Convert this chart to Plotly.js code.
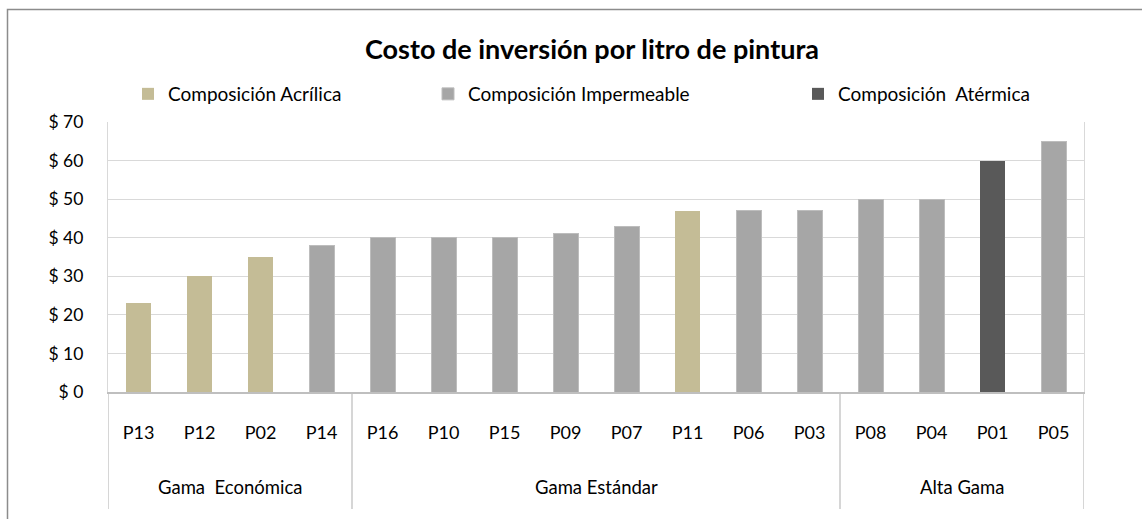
<!DOCTYPE html>
<html>
<head>
<meta charset="utf-8">
<script src="https://cdn.plot.ly/plotly-3.0.1.min.js"></script>
<style>html,body{margin:0;padding:0;background:#fff;}#chart{width:1142px;height:519px;}</style>
</head>
<body>
<div id="chart"></div>
<script>
const products = ["P13","P12","P02","P14","P16","P10","P15","P09","P07","P11","P06","P03","P08","P04","P01","P05"];
const costs = [23,30,35,38,40,40,40,41,43,47,47,47,50,50,60,65];
const composition = ["Acrílica","Acrílica","Acrílica","Impermeable","Impermeable","Impermeable","Impermeable","Impermeable","Impermeable","Acrílica","Impermeable","Impermeable","Impermeable","Impermeable","Atérmica","Impermeable"];
const groupNames = ["Gama  Económica","Gama Estándar","Alta Gama"];
const groupSizes = [4,8,4];
const seriesNames = ["Composición Acrílica","Composición Impermeable","Composición  Atérmica"];
const seriesKeys = ["Acrílica","Impermeable","Atérmica"];
const seriesColors = ["#c4bc96","#a6a6a6","#595959"];

const FONT = "Lato, 'Open Sans', sans-serif";
const L = 108, R = 1084, T = 122, B = 392;
const W = R - L, H = B - T;
const px = x => (x - L) / W;
const py = y => 1 - (y - T) / H;

const legendX = [128, 428, 798];
const traces = seriesKeys.map((k, i) => ({
  type: "bar",
  name: seriesNames[i],
  x: products,
  y: costs.map((v, j) => composition[j] === k ? v : null),
  marker: {color: seriesColors[i], line: {color: k === "Impermeable" ? "#bdbdbd" : seriesColors[i], width: k === "Impermeable" ? 1 : 0}},
  legend: i === 0 ? "legend" : "legend" + (i + 1),
  hoverinfo: "x+y"
}));

const shapes = [];
const annotations = [];
let start = 0;
const bounds = [-0.5];
groupSizes.forEach((n, g) => {
  annotations.push({
    x: start + (n - 1) / 2, xref: "x", y: py(487), yref: "paper",
    text: groupNames[g], showarrow: false, xanchor: "center", yanchor: "middle",
    font: {family: FONT, size: 18.5, color: "#000"}
  });
  start += n;
  bounds.push(start - 0.5);
});
bounds.forEach(b => shapes.push({
  type: "line", xref: "x", yref: "paper", x0: b, x1: b, y0: 0, y1: py(509),
  line: {color: "#c0c0c0", width: 1.3}
}));
// outer frame
shapes.push({type: "rect", xref: "paper", yref: "paper",
  x0: px(7.5), x1: px(1200), y0: py(560), y1: py(9.5),
  line: {color: "#8c8c8c", width: 1.5}, fillcolor: "rgba(0,0,0,0)", layer: "below"});

function legendCfg(i) {
  return {
    orientation: "h", x: px(legendX[i]), xanchor: "left", y: py(94), yanchor: "middle",
    font: {family: FONT, size: 19, color: "#000"}, bgcolor: "rgba(0,0,0,0)", borderwidth: 0
  };
}

const layout = {
  width: 1142, height: 519,
  margin: {l: L, r: 1142 - R, t: T, b: 519 - B, pad: 0},
  paper_bgcolor: "#fff", plot_bgcolor: "#fff",
  font: {family: FONT, color: "#000"},
  title: {text: "<b>Costo de inversión por litro de pintura</b>", x: 592 / 1142, xanchor: "center",
    y: 1 - 50 / 519, yanchor: "middle", yref: "container", font: {family: FONT, size: 27, color: "#000"}},
  barmode: "stack",
  bargap: 0.59,
  showlegend: true,
  legend: legendCfg(0), legend2: legendCfg(1), legend3: legendCfg(2),
  xaxis: {
    type: "category", range: [-0.5, 15.5], showgrid: false,
    showline: true, linecolor: "#bfbfbf", linewidth: 1.5,
    ticks: "", ticklabelstandoff: 24,
    tickfont: {family: FONT, size: 18, color: "#000"}, fixedrange: true
  },
  yaxis: {
    range: [0, 70], dtick: 10, tick0: 0, tickprefix: "$ ",
    showgrid: true, gridcolor: "#d9d9d9", gridwidth: 1.3,
    showline: true, mirror: true, linecolor: "#d9d9d9", linewidth: 1.3,
    zeroline: false, ticks: "", ticklabelstandoff: 20,
    tickfont: {family: FONT, size: 17.5, color: "#000"}, fixedrange: true
  },
  shapes: shapes,
  annotations: annotations
};

Plotly.newPlot("chart", traces, layout, {displayModeBar: false, staticPlot: false});
</script>
</body>
</html>
